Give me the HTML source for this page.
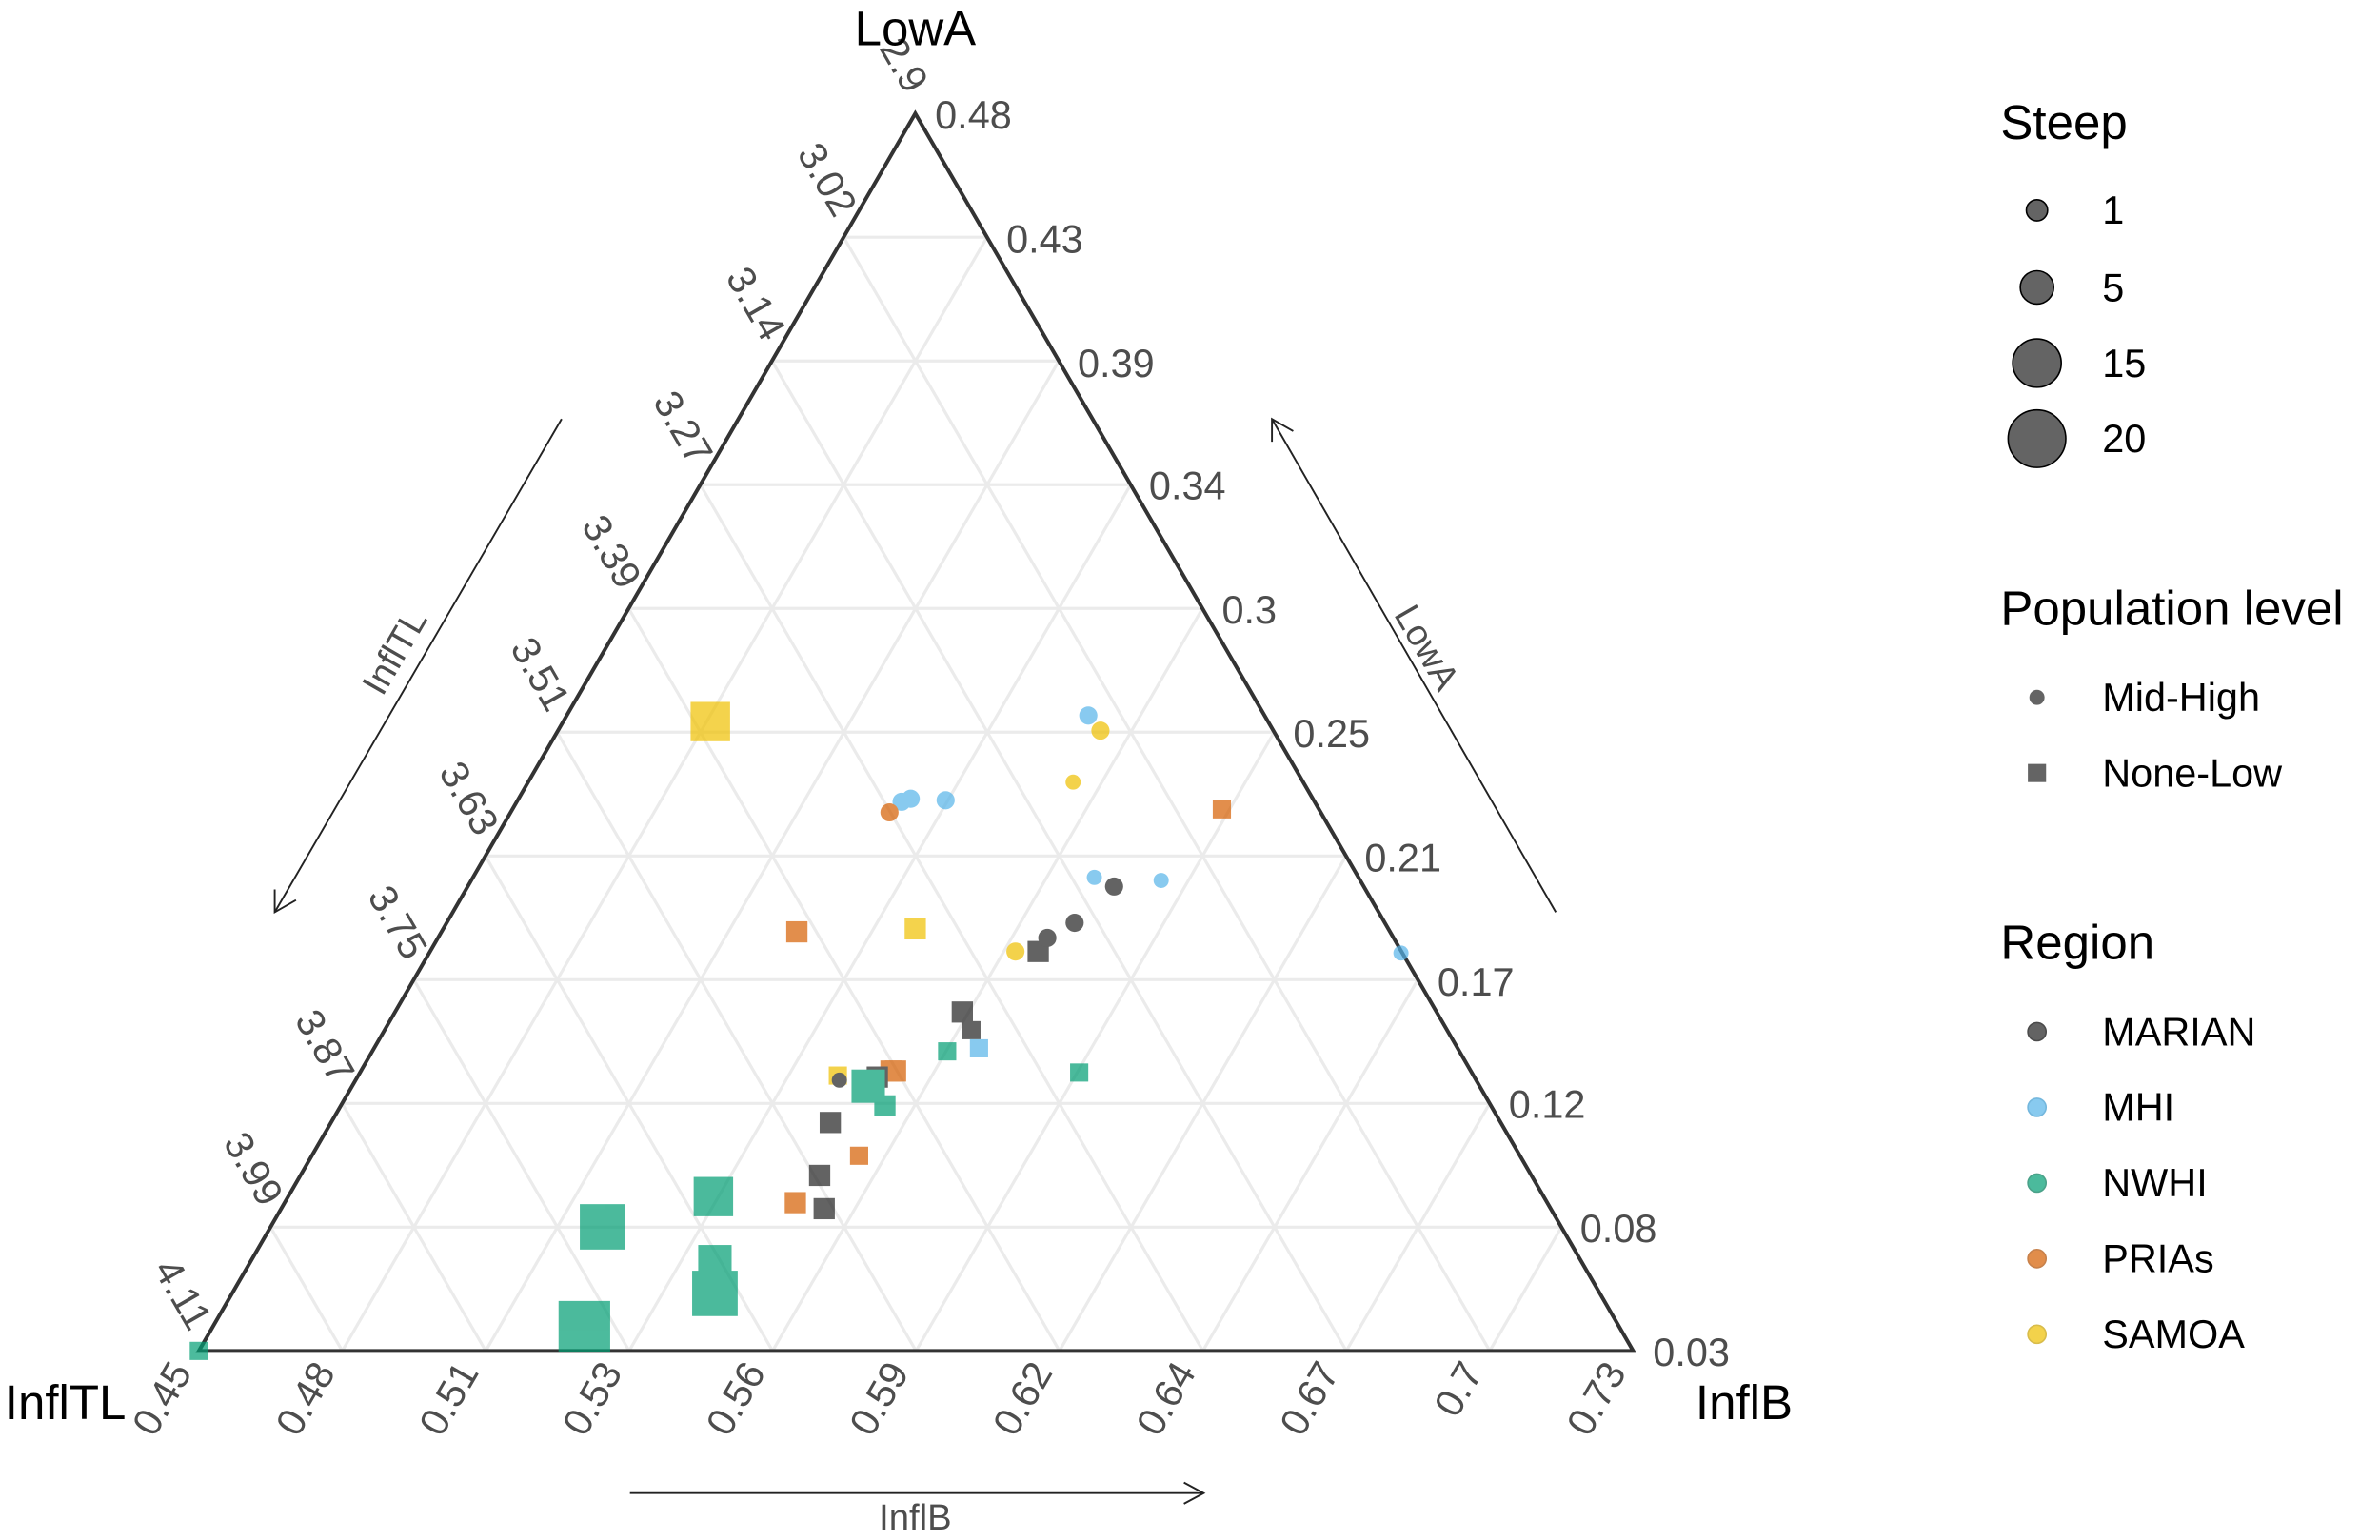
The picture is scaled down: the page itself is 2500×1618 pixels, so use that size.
<!DOCTYPE html>
<html><head><meta charset="utf-8"><style>html,body{margin:0;padding:0;background:#fff}svg{display:block}</style></head>
<body>
<svg width="2500" height="1618" viewBox="0 0 1568 1018" preserveAspectRatio="none" xmlns="http://www.w3.org/2000/svg" font-family="Liberation Sans, sans-serif">
<rect width="1568" height="1018" fill="#fff"/>
<g stroke="#ebebeb" stroke-width="2">
<line x1="555.8" y1="156.8" x2="650.3" y2="156.8"/><line x1="508.6" y1="238.6" x2="697.6" y2="238.6"/><line x1="461.4" y1="320.4" x2="744.9" y2="320.4"/><line x1="414.2" y1="402.2" x2="792.2" y2="402.2"/><line x1="367" y1="484" x2="839.5" y2="484"/><line x1="319.8" y1="565.8" x2="886.8" y2="565.8"/><line x1="272.6" y1="647.6" x2="934.1" y2="647.6"/><line x1="225.4" y1="729.4" x2="981.4" y2="729.4"/><line x1="178.2" y1="811.2" x2="1028.7" y2="811.2"/>
<line x1="225.5" y1="893" x2="650.3" y2="156.8"/><line x1="320" y1="893" x2="697.6" y2="238.6"/><line x1="414.5" y1="893" x2="744.9" y2="320.4"/><line x1="509" y1="893" x2="792.2" y2="402.2"/><line x1="603.5" y1="893" x2="839.5" y2="484"/><line x1="698" y1="893" x2="886.8" y2="565.8"/><line x1="792.5" y1="893" x2="934.1" y2="647.6"/><line x1="887" y1="893" x2="981.4" y2="729.4"/><line x1="981.5" y1="893" x2="1028.7" y2="811.2"/>
<line x1="225.5" y1="893" x2="178.2" y2="811.2"/><line x1="320" y1="893" x2="225.4" y2="729.4"/><line x1="414.5" y1="893" x2="272.6" y2="647.6"/><line x1="509" y1="893" x2="319.8" y2="565.8"/><line x1="603.5" y1="893" x2="367" y2="484"/><line x1="698" y1="893" x2="414.2" y2="402.2"/><line x1="792.5" y1="893" x2="461.4" y2="320.4"/><line x1="887" y1="893" x2="508.6" y2="238.6"/><line x1="981.5" y1="893" x2="555.8" y2="156.8"/>
</g>
<polygon points="603,75 131,893 1076,893" fill="none" stroke="#333" stroke-width="2.5"/>
<g opacity="0.7">
<rect x="455" y="464" width="26" height="26" fill="#EFC000"/>
<rect x="799" y="529" width="12" height="12" fill="#D55E00"/>
<rect x="518" y="609" width="14" height="14" fill="#D55E00"/>
<rect x="596" y="607" width="14" height="14" fill="#EFC000"/>
<rect x="677" y="622" width="14" height="14" fill="#222"/>
<rect x="627" y="662" width="14" height="14" fill="#222"/>
<rect x="634" y="675" width="12" height="12" fill="#222"/>
<rect x="618" y="689" width="12" height="12" fill="#009E73"/>
<rect x="639" y="687" width="12" height="12" fill="#56B4E9"/>
<rect x="705" y="703" width="12" height="12" fill="#009E73"/>
<rect x="546" y="705" width="12" height="12" fill="#EFC000"/>
<rect x="580" y="701" width="14" height="14" fill="#D55E00"/>
<rect x="583" y="701" width="14" height="14" fill="#D55E00"/>
<rect x="571" y="705" width="14" height="14" fill="#222"/>
<rect x="561" y="707" width="22" height="22" fill="#009E73"/>
<rect x="576" y="724" width="14" height="14" fill="#009E73"/>
<rect x="540" y="735" width="14" height="14" fill="#222"/>
<rect x="560" y="758" width="12" height="12" fill="#D55E00"/>
<rect x="533" y="770" width="14" height="14" fill="#222"/>
<rect x="517" y="788" width="14" height="14" fill="#D55E00"/>
<rect x="536" y="792" width="14" height="14" fill="#222"/>
<rect x="457" y="778" width="26" height="26" fill="#009E73"/>
<rect x="382" y="796" width="30" height="30" fill="#009E73"/>
<rect x="460" y="823" width="22" height="22" fill="#009E73"/>
<rect x="456" y="840" width="30" height="30" fill="#009E73"/>
<rect x="368" y="860" width="34" height="34" fill="#009E73"/>
<rect x="125" y="887" width="12" height="12" fill="#009E73"/>
<circle cx="717" cy="473" r="6" fill="#56B4E9"/>
<circle cx="725" cy="483" r="6" fill="#EFC000"/>
<circle cx="600" cy="528" r="6" fill="#56B4E9"/>
<circle cx="594" cy="530" r="6" fill="#56B4E9"/>
<circle cx="623" cy="529" r="6" fill="#56B4E9"/>
<circle cx="586" cy="537" r="6" fill="#D55E00"/>
<circle cx="707" cy="517" r="5" fill="#EFC000"/>
<circle cx="721" cy="580" r="5" fill="#56B4E9"/>
<circle cx="765" cy="582" r="5" fill="#56B4E9"/>
<circle cx="734" cy="586" r="6" fill="#222"/>
<circle cx="708" cy="610" r="6" fill="#222"/>
<circle cx="690" cy="620" r="6" fill="#222"/>
<circle cx="669" cy="629" r="6" fill="#EFC000"/>
<circle cx="923" cy="630" r="5" fill="#56B4E9"/>
<circle cx="553" cy="714" r="5" fill="#222"/>
</g>
<g fill="#4d4d4d" font-size="26">
<g text-anchor="end">
<text transform="translate(597,63) rotate(60)">2.9</text>
<text transform="translate(550,145) rotate(60)">3.02</text>
<text transform="translate(503,227) rotate(60)">3.14</text>
<text transform="translate(455,309) rotate(60)">3.27</text>
<text transform="translate(408,391) rotate(60)">3.39</text>
<text transform="translate(361,472) rotate(60)">3.51</text>
<text transform="translate(314,554) rotate(60)">3.63</text>
<text transform="translate(267,636) rotate(60)">3.75</text>
<text transform="translate(219,718) rotate(60)">3.87</text>
<text transform="translate(172,799) rotate(60)">3.99</text>
<text transform="translate(125,881) rotate(60)">4.11</text>
<text transform="translate(127,907) rotate(-60)">0.45</text>
<text transform="translate(221.5,907) rotate(-60)">0.48</text>
<text transform="translate(316,907) rotate(-60)">0.51</text>
<text transform="translate(410.5,907) rotate(-60)">0.53</text>
<text transform="translate(505,907) rotate(-60)">0.56</text>
<text transform="translate(599.5,907) rotate(-60)">0.59</text>
<text transform="translate(694,907) rotate(-60)">0.62</text>
<text transform="translate(788.5,907) rotate(-60)">0.64</text>
<text transform="translate(883,907) rotate(-60)">0.67</text>
<text transform="translate(977.5,907) rotate(-60)">0.7</text>
<text transform="translate(1072,907) rotate(-60)">0.73</text>
</g>
<text x="616" y="85">0.48</text>
<text x="663" y="167">0.43</text>
<text x="710" y="249">0.39</text>
<text x="757" y="330">0.34</text>
<text x="805" y="412">0.3</text>
<text x="852" y="494">0.25</text>
<text x="899" y="576">0.21</text>
<text x="947" y="658">0.17</text>
<text x="994" y="739">0.12</text>
<text x="1041" y="821">0.08</text>
<text x="1089" y="903">0.03</text>
</g>
<g fill="#000" font-size="32">
<text x="603" y="30" text-anchor="middle">LowA</text>
<text x="3" y="938">InflTL</text>
<text x="1117" y="938">InflB</text>
</g>
<g stroke="#222" stroke-width="1.2" fill="none">
<line x1="370" y1="277" x2="181" y2="603"/><polyline points="181,588 181,603 195,595"/>
<line x1="1025" y1="603" x2="838" y2="277"/><polyline points="838,292 838,277 852,285"/>
<line x1="415" y1="987" x2="793" y2="987"/><polyline points="780,980 793,987 780,994"/>
</g>
<g fill="#4d4d4d" font-size="24">
<text transform="translate(267,435) rotate(-60)" text-anchor="middle">InflTL</text>
<text transform="translate(933,432) rotate(60)" text-anchor="middle">LowA</text>
<text x="603" y="1011" text-anchor="middle">InflB</text>
</g>
<g font-size="32" fill="#000">
<text x="1318" y="92">Steep</text>
<text x="1318" y="413">Population level</text>
<text x="1318" y="634">Region</text>
</g>
<g font-size="26" fill="#000">
<text x="1385" y="148">1</text><text x="1385" y="199">5</text><text x="1385" y="249">15</text><text x="1385" y="299">20</text>
<text x="1385" y="470">Mid-High</text><text x="1385" y="520">None-Low</text>
<text x="1385" y="691">MARIAN</text><text x="1385" y="741">MHI</text><text x="1385" y="791">NWHI</text><text x="1385" y="841">PRIAs</text><text x="1385" y="891">SAMOA</text>
</g>
<g fill="#222" fill-opacity="0.7" stroke="#000" stroke-width="1">
<circle cx="1342" cy="139" r="7"/><circle cx="1342" cy="190" r="11"/><circle cx="1342" cy="240" r="16"/><circle cx="1342" cy="290" r="19"/>
</g>
<g opacity="0.7">
<circle cx="1342" cy="461" r="5" fill="#222"/>
<rect x="1336" y="505" width="12" height="12" fill="#222"/>
<circle cx="1342" cy="682" r="6" fill="#222" stroke="#000"/>
<circle cx="1342" cy="732" r="6" fill="#56B4E9" stroke="#3a9ad0"/>
<circle cx="1342" cy="782" r="6" fill="#009E73" stroke="#007a58"/>
<circle cx="1342" cy="832" r="6" fill="#D55E00" stroke="#b04d00"/>
<circle cx="1342" cy="882" r="6" fill="#EFC000" stroke="#c8a000"/>
</g>
</svg>
</body></html>
